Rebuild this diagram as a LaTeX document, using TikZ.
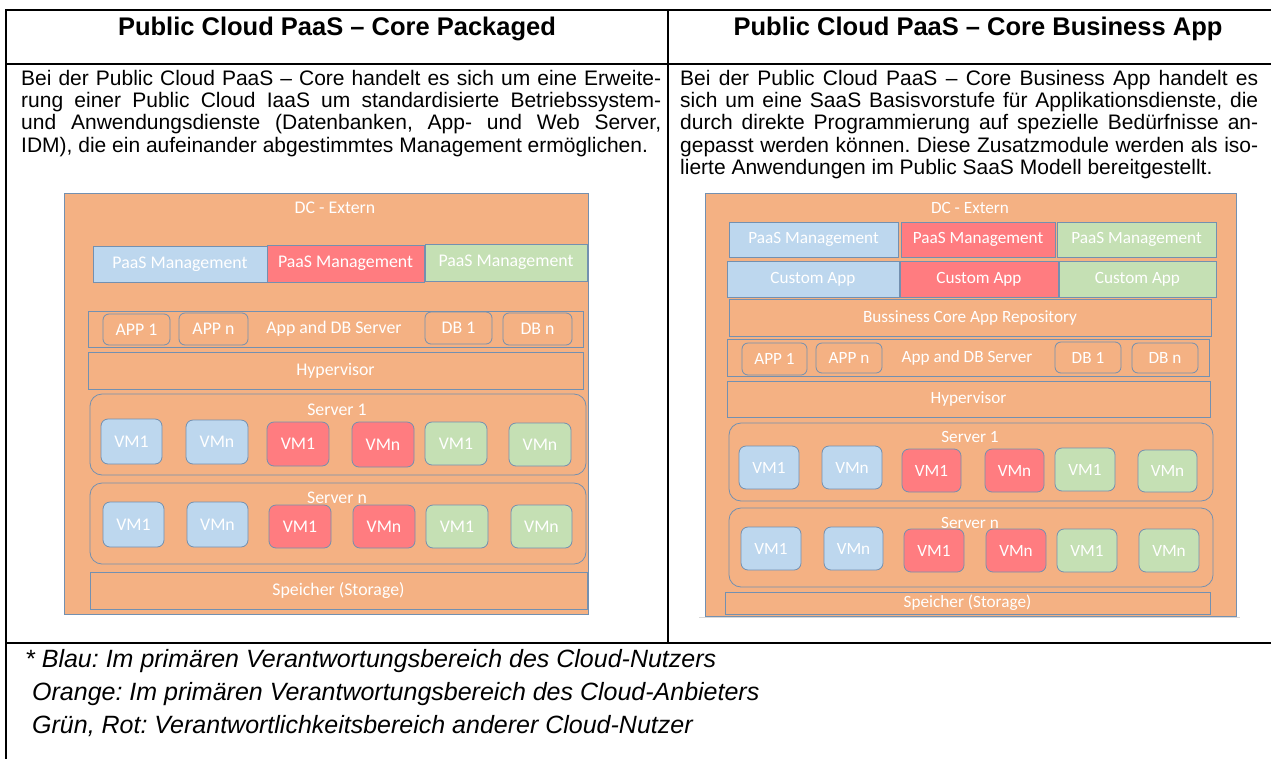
\documentclass[tikz,border=0pt]{standalone}
\usepackage{fontspec}
\setmainfont{Liberation Sans}
\newfontfamily\calib{Carlito}
\definecolor{dcorange}{HTML}{F4B183}
\definecolor{vmblue}{HTML}{BDD7EE}
\definecolor{vmred}{HTML}{FF7C80}
\definecolor{vmgreen}{HTML}{C5E0B4}
\definecolor{edge}{HTML}{7390B0}
\newcommand\bx[7]{\node[#1, minimum width={#5-#3}, minimum height={#6-#4}] (#2) at ({(#3+#5)/2},{(#4+#6)/2}) {#7};}
\frenchspacing
\begin{document}
\begin{tikzpicture}[x=1pt,y=-1pt,
  tline/.style={line width=2pt,black},
  hdr/.style={font=\bfseries\fontsize{25.5}{28}\selectfont,inner sep=0pt,anchor=base},
  desc/.style={font=\fontsize{21}{22.4}\selectfont\frenchspacing,inner sep=0pt,anchor=base west,align=justify},
  foot/.style={font=\itshape\fontsize{25}{28}\selectfont\frenchspacing,inner sep=0pt,anchor=base west},
  base/.style={draw=edge,line width=0.8pt,inner sep=0pt,text=white},
  labA/.style={text=white,inner sep=0pt,font=\calib\fontsize{17.8}{20}\selectfont},
  labB/.style={text=white,inner sep=0pt,font=\calib\fontsize{17.2}{19}\selectfont},
  obox/.style={base,fill=dcorange},
  bbox/.style={base,fill=vmblue},
  rbox/.style={base,fill=vmred},
  gbox/.style={base,fill=vmgreen},
  srv/.style={obox,rounded corners=12pt},
  vmb/.style={bbox,rounded corners=7pt},
  vmr/.style={rbox,rounded corners=7pt},
  vmg/.style={gbox,rounded corners=7pt},
  sm/.style={obox,rounded corners=6pt},
]
\useasboundingbox (0,0) rectangle (1271,758);
% table
\draw[tline] (6,10) -- (1275,10);
\draw[tline] (6,9) -- (6,760);
\draw[tline] (6,63.5) -- (1275,63.5);
\draw[tline] (667.5,10) -- (667.5,643);
\draw[tline] (6,643) -- (1275,643);
\node[hdr] (h1) at (337,35) {Public Cloud PaaS – Core Packaged};
\node[hdr] (h2) at (978,35) {Public Cloud PaaS – Core Business App};
\node[desc,text width=640pt] (d1) at (21,85) {Bei der Public Cloud PaaS – Core handelt es sich um eine Erweite-\linebreak rung einer Public Cloud IaaS um standardisierte Betriebssystem-\linebreak und Anwendungsdienste (Datenbanken, App- und Web Server,\linebreak IDM), die ein aufeinander abgestimmtes Management ermöglichen.};
\node[desc,text width=578pt] (d2) at (680,85) {Bei der Public Cloud PaaS – Core Business App handelt es\linebreak sich um eine SaaS Basisvorstufe für Applikationsdienste, die\linebreak durch direkte Programmierung auf spezielle Bedürfnisse an-\linebreak gepasst werden können. Diese Zusatzmodule werden als iso-\linebreak lierte Anwendungen im Public SaaS Modell bereitgestellt.};
\node[foot] (f1) at (25,667) {* Blau: Im primären Verantwortungsbereich des Cloud-Nutzers};
\node[foot] (f2) at (32,700) {Orange: Im primären Verantwortungsbereich des Cloud-Anbieters};
\node[foot] (f3) at (32,733) {Grün, Rot: Verantwortlichkeitsbereich anderer Cloud-Nutzer};

% ---------- left diagram ----------
\begin{scope}[every node/.append style={font=\calib\fontsize{17.8}{20}\selectfont}]
\bx{obox}{dcA}{64}{193}{588}{614}{}
\node[labA] (dcAl) at (335,208) {DC - Extern};
\bx{bbox}{pmAb}{93}{246}{267}{282}{PaaS Management}
\bx{rbox}{pmAr}{267}{245}{424}{282}{PaaS Management}
\bx{gbox}{pmAg}{425}{244}{587}{281}{PaaS Management}
\bx{obox}{adA}{88}{311}{583}{347}{}
\node[labA] (adAl) at (334,329) {App and DB Server};
\bx{sm}{apA1}{103}{314}{170}{345}{APP 1}
\bx{sm}{apAn}{179}{313}{248}{345}{APP n}
\bx{sm}{dbA1}{425}{312}{492}{344}{DB 1}
\bx{sm}{dbAn}{503}{313}{572}{345}{DB n}
\bx{obox}{hyA}{88}{352}{583}{389}{Hypervisor}
\bx{srv}{s1A}{90}{394}{586}{475}{}
\node[labA] (s1Al) at (337,410) {Server 1};
\bx{vmb}{a11}{101}{419}{162}{464}{VM1}
\bx{vmb}{a12}{186}{420}{248}{464}{VMn}
\bx{vmr}{a13}{267}{422}{329}{466}{VM1}
\bx{vmr}{a14}{352}{422}{414}{467}{VMn}
\bx{vmg}{a15}{425}{422}{487}{465}{VM1}
\bx{vmg}{a16}{509}{423}{571}{466}{VMn}
\bx{srv}{snA}{90}{483}{586}{564}{}
\node[labA] (snAl) at (337,498) {Server n};
\bx{vmb}{a21}{103}{502}{164}{547}{VM1}
\bx{vmb}{a22}{187}{502}{248}{547}{VMn}
\bx{vmr}{a23}{269}{505}{331}{548}{VM1}
\bx{vmr}{a24}{353}{505}{415}{548}{VMn}
\bx{vmg}{a25}{426}{505}{488}{548}{VM1}
\bx{vmg}{a26}{511}{505}{572}{548}{VMn}
\bx{obox}{stA}{90}{572}{587}{609}{Speicher (Storage)}
\end{scope}

% ---------- right diagram ----------
\begin{scope}[every node/.append style={font=\calib\fontsize{17.2}{19}\selectfont}]
\draw[line width=1.5pt,black!15] (699,617.5) -- (1240,617.5);
\bx{obox}{dcB}{705}{193}{1236}{616}{}
\node[labB] (dcBl) at (970,208) {DC - Extern};
\bx{bbox}{pmBb}{729}{222}{898}{257}{PaaS Management}
\bx{rbox}{pmBr}{901}{222}{1055}{257}{PaaS Management}
\bx{gbox}{pmBg}{1057}{222}{1216}{257}{PaaS Management}
\bx{bbox}{caBb}{727}{261}{899}{297}{Custom App}
\bx{rbox}{caBr}{900}{261}{1058}{297}{Custom App}
\bx{gbox}{caBg}{1059}{261}{1216}{297}{Custom App}
\bx{obox}{buB}{729}{299}{1211}{336}{Bussiness Core App Repository}
\bx{obox}{adB}{727}{339}{1209}{376}{}
\node[labB] (adBl) at (967,358) {App and DB Server};
\bx{sm}{apB1}{742}{343}{807}{375}{APP 1}
\bx{sm}{apBn}{816}{343}{882}{373}{APP n}
\bx{sm}{dbB1}{1055}{342}{1121}{373}{DB 1}
\bx{sm}{dbBn}{1132}{343}{1198}{373}{DB n}
\bx{obox}{hyB}{727}{381}{1210}{417}{Hypervisor}
\bx{srv}{s1B}{729}{423}{1213}{501}{}
\node[labB] (s1Bl) at (970,437) {Server 1};
\bx{vmb}{b11}{739}{446}{799}{489}{VM1}
\bx{vmb}{b12}{822}{446}{882}{489}{VMn}
\bx{vmr}{b13}{902}{449}{961}{492}{VM1}
\bx{vmr}{b14}{985}{449}{1044}{492}{VMn}
\bx{vmg}{b15}{1055}{448}{1115}{491}{VM1}
\bx{vmg}{b16}{1138}{450}{1197}{492}{VMn}
\bx{srv}{snB}{729}{508}{1213}{587}{}
\node[labB] (snBl) at (970,523) {Server n};
\bx{vmb}{b21}{741}{527}{801}{570}{VM1}
\bx{vmb}{b22}{824}{527}{883}{570}{VMn}
\bx{vmr}{b23}{904}{529}{964}{572}{VM1}
\bx{vmr}{b24}{986}{529}{1046}{572}{VMn}
\bx{vmg}{b25}{1057}{529}{1117}{572}{VM1}
\bx{vmg}{b26}{1139}{529}{1199}{572}{VMn}
\bx{obox}{stB}{725}{592}{1210}{614}{Speicher (Storage)}
\end{scope}
\end{tikzpicture}
\end{document}
